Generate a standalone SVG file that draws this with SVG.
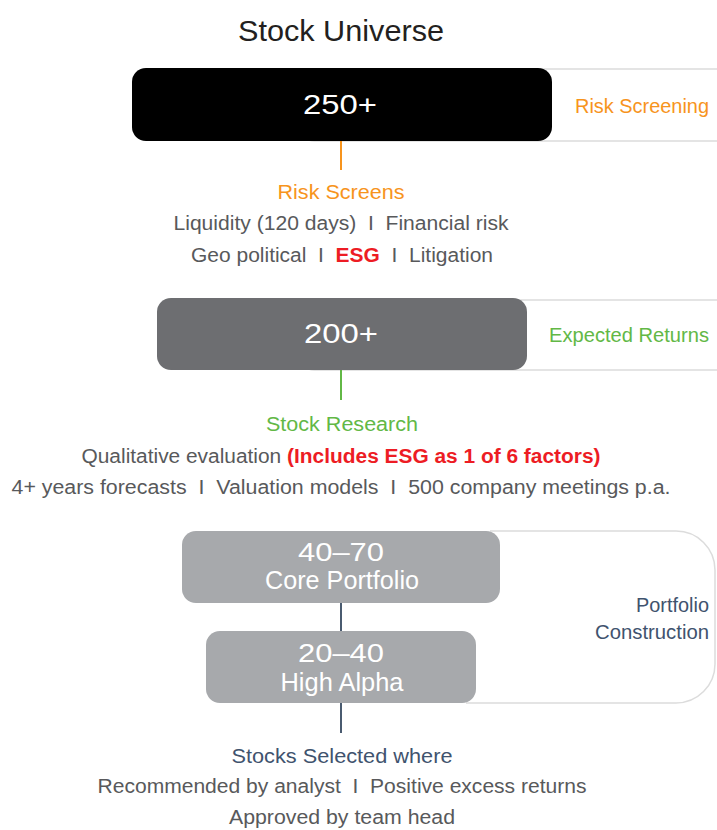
<svg xmlns="http://www.w3.org/2000/svg" width="717" height="830" viewBox="0 0 717 830" xml:space="preserve">
  <style>
    text { font-family: "Liberation Sans", Arial, sans-serif; text-anchor: middle; white-space: pre; }
    .title { font-size: 30px; fill: #231f20; }
    .big { font-size: 27px; fill: #ffffff; }
    .mid { font-size: 25px; fill: #ffffff; }
    .body { font-size: 20px; fill: #58595b; }
    .orange { fill: #f7941d; }
    .green { fill: #62b846; }
    .slate { fill: #3f536e; }
    .red { fill: #ed1c24; font-weight: bold; }
    .panel { fill: #ffffff; stroke: #dcdcdc; stroke-width: 1.5; }
    .panel-open { fill: none; stroke: #dcdcdc; stroke-width: 1.5; }
  </style>

  <text class="title" x="341" y="41" textLength="206" lengthAdjust="spacingAndGlyphs">Stock Universe</text>

  <!-- Stage 1: risk screening -->
  <g id="risk-screening">
    <rect class="panel" x="300" y="69" width="440" height="72" rx="14"/>
    <rect x="132" y="68" width="420" height="73" rx="14" fill="#000000"/>
    <text class="big" x="340" y="114" textLength="74" lengthAdjust="spacingAndGlyphs">250+</text>
    <text class="body orange" x="642" y="113" textLength="134" lengthAdjust="spacingAndGlyphs">Risk Screening</text>
  </g>

  <g id="risk-screens">
    <text class="body orange" x="341" y="199" textLength="127" lengthAdjust="spacingAndGlyphs">Risk Screens</text>
    <text class="body" x="341" y="230" textLength="335" lengthAdjust="spacingAndGlyphs">Liquidity (120 days)  I  Financial risk</text>
    <text class="body" x="342" y="262" textLength="302" lengthAdjust="spacingAndGlyphs">Geo political  I  <tspan class="red">ESG</tspan>  I  Litigation</text>
  </g>

  <!-- Stage 2: expected returns -->
  <g id="expected-returns">
    <rect class="panel" x="300" y="300" width="440" height="70" rx="14"/>
    <rect x="157" y="298" width="370" height="72" rx="14" fill="#6d6e71"/>
    <text class="big" x="341" y="343" textLength="74" lengthAdjust="spacingAndGlyphs">200+</text>
    <text class="body green" x="629" y="342" textLength="160" lengthAdjust="spacingAndGlyphs">Expected Returns</text>
  </g>

  <g id="stock-research">
    <text class="body green" x="342" y="431" textLength="152" lengthAdjust="spacingAndGlyphs">Stock Research</text>
    <text class="body" x="341" y="463" textLength="519" lengthAdjust="spacingAndGlyphs">Qualitative evaluation <tspan class="red">(Includes ESG as 1 of 6 factors)</tspan></text>
    <text class="body" x="341" y="494" textLength="659" lengthAdjust="spacingAndGlyphs">4+ years forecasts  I  Valuation models  I  500 company meetings p.a.</text>
  </g>

  <!-- Stage 3: portfolio construction (bracket open on the left, behind the boxes) -->
  <g id="portfolio-construction">
    <path class="panel-open" d="M 490 531 H 676 A 39 39 0 0 1 715 570 V 664 A 39 39 0 0 1 676 703 H 466"/>
    <text class="body slate" x="709" y="612" style="text-anchor:end" textLength="73" lengthAdjust="spacingAndGlyphs">Portfolio</text>
    <text class="body slate" x="709" y="639" style="text-anchor:end" textLength="114" lengthAdjust="spacingAndGlyphs">Construction</text>
  </g>

  <g id="core-portfolio">
    <rect x="182" y="531" width="318" height="72" rx="14" fill="#a7a9ac"/>
    <text class="mid" x="341" y="561" textLength="86" lengthAdjust="spacingAndGlyphs">40–70</text>
    <text class="mid" x="342" y="589" textLength="154" lengthAdjust="spacingAndGlyphs">Core Portfolio</text>
  </g>

  <g id="high-alpha">
    <rect x="206" y="631" width="270" height="72" rx="14" fill="#a7a9ac"/>
    <text class="mid" x="341" y="662" textLength="86" lengthAdjust="spacingAndGlyphs">20–40</text>
    <text class="mid" x="342" y="691" textLength="123" lengthAdjust="spacingAndGlyphs">High Alpha</text>
  </g>

  <g id="stocks-selected">
    <text class="body slate" x="342" y="763" textLength="221" lengthAdjust="spacingAndGlyphs">Stocks Selected where</text>
    <text class="body" x="342" y="793" textLength="489" lengthAdjust="spacingAndGlyphs">Recommended by analyst  I  Positive excess returns</text>
    <text class="body" x="342" y="824" textLength="226" lengthAdjust="spacingAndGlyphs">Approved by team head</text>
  </g>

  <!-- Connectors -->
  <g id="connectors" stroke-width="2" fill="none">
    <line x1="341" y1="141" x2="341" y2="170" stroke="#f7941d"/>
    <line x1="341" y1="370" x2="341" y2="400" stroke="#62b846"/>
    <line x1="341" y1="603" x2="341" y2="631" stroke="#4a5b70"/>
    <line x1="341" y1="703" x2="341" y2="733" stroke="#4a5b70"/>
  </g>
</svg>
